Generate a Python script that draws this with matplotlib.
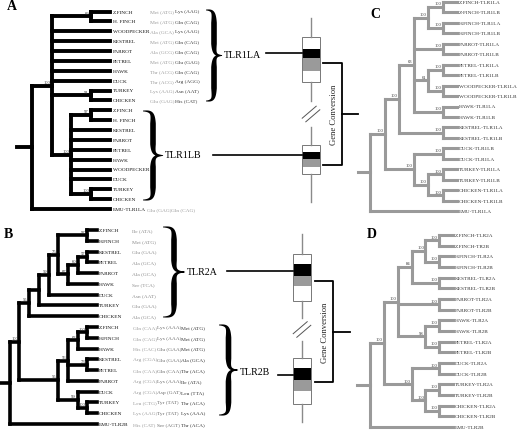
import numpy as np
import matplotlib
matplotlib.use("Agg")
import matplotlib.pyplot as plt
from matplotlib.collections import LineCollection

plt.rcParams['font.family'] = ['Liberation Serif', 'DejaVu Serif']

# ---- data: tree topologies (support, children), leaves are indices ----
leaves_a = ["Z.FINCH", "H. FINCH", "WOODPECKER", "KESTREL", "PARROT", "PETREL",
            "HAWK", "DUCK", "TURKEY", "CHICKEN",
            "Z.FINCH", "H. FINCH", "KESTREL", "PARROT", "PETREL", "HAWK",
            "WOODPECKER", "DUCK", "TURKEY", "CHICKEN", "EMU-TLR1LA"]
tree_a = ("", [("100", [("69", [0, 1]), 2, 3, 4, 5, 6, 7, ("91", [8, 9]),
                        ("100", [("97", [10, 11]), 12, 13, 14, 15, 16, 17,
                                 ("100", [18, 19])])]),
               20])
codons_a = [["Met (ATG)", "Lys (AAG)"], ["Met (ATG)", "Gln (CAG)"],
            ["Ala (GCA)", "Lys (AAG)"], ["Met (ATG)", "Gln (CAG)"],
            ["Ala (GCG)", "Gln (CAG)"], ["Met (ATG)", "Glu (GAG)"],
            ["Thr (ACG)", "Gln (CAG)"], ["Thr (ACG)", "Arg (AGG)"],
            ["Lys (AAG)", "Asn (AAT)"], ["Glu (GAG)", "His (CAT)"]]
codons_a_emu = ["Glu (GAG)", "Gln (CAG)"]

leaves_b = ["Z.FINCH", "H.FINCH", "KESTREL", "PETREL", "PARROT", "HAWK",
            "DUCK", "TURKEY", "CHICKEN",
            "Z.FINCH", "H.FINCH", "HAWK", "KESTREL", "PETREL", "PARROT",
            "DUCK", "TURKEY", "CHICKEN", "EMU-TLR2B"]
tree_b = ("", [("100", [("55", [("", [("59", [("75", [("97", [0, 1]),
                                                     ("87", [("60", [("57", [2, 3]), 4]), 5])]),
                                              6]), 7]), 8]),
                        ("55", [("56", [("63", [("100", [9, 10]), 11]),
                                        ("73", [12, 13]), 14]),
                                ("99", [15, ("100", [16, 17])])])]),
               18])
codons_b_2a = ["Ile (ATA)", "Met (ATG)", "Glu (GAA)", "Ala (GCA)", "Ala (GCA)",
               "Ser (TCA)", "Asn (AAT)", "Glu (GAA)", "Ala (GCA)"]
codons_b_2b = [["Gln (CAA)", "Lys (AAA)", "Met (ATG)"],
               ["Gln (CAG)", "Lys (AAA)", "Met (ATG)"],
               ["His (CAC)", "Glu (GAA)", "Met (ATG)"],
               ["Arg (CGA)", "Glu (GAA)", "Ala (GCA)"],
               ["Gln (CAA)", "Gln (CAA)", "Thr (ACA)"],
               ["Arg (CGA)", "Lys (AAA)", "Ile (ATA)"],
               ["Arg (CGA)", "Asp (GAT)", "Leu (TTA)"],
               ["Leu (CTG)", "Tyr (TAT)", "Thr (ACA)"],
               ["Lys (AAG)", "Tyr (TAT)", "Lys (AAA)"],
               ["His (CAT)", "Ser (AGT)", "Thr (ACA)"]]

leaves_c = ["Z.FINCH-TLR1LA", "Z-FINCH-TLR1LB", "H.FINCH-TLR1LA", "H.FINCH-TLR1LB",
            "PARROT-TLR1LA", "PARROT-TLR1LB", "PETREL-TLR1LA", "PETREL-TLR1LB",
            "WOODPECKER-TLR1LA", "WOODPECKER-TLR1LB", "HAWK-TLR1LA", "HAWK-TLR1LB",
            "KESTREL-TLR1LA", "KESTREL-TLR1LB", "DUCK-TLR1LB", "DUCK-TLR1LA",
            "TURKEY-TLR1LA", "TURKEY-TLR1LB", "CHICKEN-TLR1LA", "CHICKEN-TLR1LB",
            "EMU-TLR1LA"]
tree_c = ("", [("100", [("100", [("63", [("100", [("100", [0, 1]), ("100", [2, 3])]),
                                         ("100", [4, 5]),
                                         ("61", [("100", [6, 7]), ("100", [8, 9])]),
                                         ("100", [10, 11])]),
                                 ("100", [12, 13])]),
                        ("100", [("100", [14, 15]),
                                 ("100", [("100", [16, 17]), ("100", [18, 19])])])]),
               20])

leaves_d = ["Z.FINCH-TLR2A", "Z.FINCH-TR2B", "H.FINCH-TLR2A", "H.FINCH-TLR2B",
            "KESTREL-TLR2A", "KESTREL-TLR2B", "PARROT-TLR2A", "PARROT-TLR2B",
            "HAWK-TLR2A", "HAWK-TLR2B", "PETREL-TLR2A", "PETREL-TLR2B",
            "DUCK-TLR2A", "DUCK-TLR2B", "TURKEY-TLR2A", "TURKEY-TLR2B",
            "CHICKEN-TLR2A", "CHICKEN-TLR2B", "EMU-TLR2B"]
tree_d = ("", [("100", [("100", [("84", [("100", [("100", [0, 1]), ("100", [2, 3])]),
                                         ("100", [4, 5])]),
                                 ("100", [6, 7]),
                                 ("98", [("100", [8, 9]), ("100", [10, 11])])]),
                        ("100", [("100", [12, 13]),
                                 ("100", [("100", [14, 15]), ("100", [16, 17])])])]),
               18])


# ---- helpers ----
def layout(node, ys, leaf_x, step, segs, labels):
    if isinstance(node, int):
        return leaf_x, ys[node], 0
    sup, kids = node
    res = [layout(k, ys, leaf_x, step, segs, labels) for k in kids]
    h = max(r[2] for r in res) + 1
    x = leaf_x - step * h
    y = (res[0][1] + res[-1][1]) / 2
    segs.append([(x, res[0][1]), (x, res[-1][1])])
    for cx, cy, _ in res:
        segs.append([(x, cy), (cx, cy)])
    if sup:
        labels.append((x, y, sup))
    return x, y, h


def draw_tree(ax, tree, names, y0, dy, leaf_x, step, stub, color, lw,
              txt_color, gap, fs=3.8):
    ys = y0 + dy * np.arange(len(names))
    segs, labels = [], []
    rx, ry, _ = layout(tree, ys, leaf_x, step, segs, labels)
    segs.append([(rx - stub, ry), (rx, ry)])
    ax.add_collection(LineCollection(segs, colors=color, linewidths=lw,
                                     capstyle='projecting', joinstyle='miter'))
    for x, y, s in labels:
        ax.text(x - 1.5, y - 1.8, s, fontsize=3.3, ha='right', va='bottom',
                color='#333333')
    for y, n in zip(ys, names):
        ax.text(leaf_x + gap, y, n, fontsize=fs, ha='left', va='center',
                color=txt_color)
    return ys


def brace(ax, x0, x1, ytop, ybot, wmax=5.6):
    xm = (x0 + x1) / 2
    ym = (ytop + ybot) / 2
    r = (ybot - ytop) * 0.14
    t = np.linspace(0, 1, 25)[:, None]

    def bez(p0, p1, p2, p3):
        p0, p1, p2, p3 = map(np.array, (p0, p1, p2, p3))
        return (1 - t) ** 3 * p0 + 3 * (1 - t) ** 2 * t * p1 + 3 * (1 - t) * t ** 2 * p2 + t ** 3 * p3

    s1 = bez((x0, ytop), (xm - 0.1 * (xm - x0), ytop), (xm, ytop + 0.2 * r), (xm, ytop + r))
    s2 = np.column_stack([np.full(25, xm), np.linspace(ytop + r, ym - r, 25)])
    s3 = bez((xm, ym - r), (xm, ym - 0.2 * r), (xm + 0.1 * (x1 - xm), ym), (x1, ym))
    upper = np.vstack([s1, s2[1:], s3[1:]])
    w_up = np.concatenate([np.linspace(0.8, wmax, 25), np.full(24, wmax),
                           np.linspace(wmax, 0.8, 24)])
    lower = upper[::-1].copy()
    lower[:, 1] = 2 * ym - lower[:, 1]
    pts = np.vstack([upper, lower[1:]])
    w = np.concatenate([w_up, w_up[::-1][1:]])
    d = np.gradient(pts, axis=0)
    n = np.column_stack([-d[:, 1], d[:, 0]])
    n /= np.linalg.norm(n, axis=1)[:, None] + 1e-9
    left = pts + n * w[:, None] / 2
    right = pts - n * w[:, None] / 2
    ax.fill(np.concatenate([left[:, 0], right[::-1, 0]]),
            np.concatenate([left[:, 1], right[::-1, 1]]), color='black', lw=0)


def gene_box(ax, x, y, bands, w=18):
    for h, c in bands:
        ax.add_patch(plt.Rectangle((x, y), w, h, facecolor=c, edgecolor='none'))
        y += h
    return y


fig = plt.figure(figsize=(5.2, 4.31), dpi=100)
ax = fig.add_axes([0, 0, 1, 1])
ax.set_xlim(0, 520)
ax.set_ylim(431, 0)
ax.axis('off')

# ---- panel A ----
ys_a = draw_tree(ax, tree_a, leaves_a, 12.5, 9.875, 110, 19.5, 15, 'black', 2.8,
                 '#111111', 3)
for y, (c1, c2) in zip(ys_a[:10], codons_a):
    ax.text(150, y, c1, fontsize=3.9, va='center', color='#9a9a9a')
    ax.text(175, y, c2, fontsize=3.9, va='center', color='#3a3a3a')
ax.text(147, ys_a[20], codons_a_emu[0], fontsize=3.9, va='center', color='#9a9a9a')
ax.text(171, ys_a[20], codons_a_emu[1], fontsize=3.9, va='center', color='#9a9a9a')
brace(ax, 206, 222, 11, 102)
ax.text(224, 56, "TLR1LA", fontsize=7.2, va='center')
brace(ax, 143, 163, 112, 201)
ax.text(165, 156, "TLR1LB", fontsize=7.2, va='center')

# ---- panel B ----
ys_b = draw_tree(ax, tree_b, leaves_b, 231, 10.78, 97, 9.7, 10, 'black', 2.6,
                 '#111111', 2.2)
for y, c in zip(ys_b[:9], codons_b_2a):
    ax.text(132, y, c, fontsize=3.9, va='center', color='#8a8a8a')
for y, row in zip(ys_b[9:], codons_b_2b):
    for x, c, col in zip([133, 157, 181], row, ['#9a9a9a', '#6a6a6a', '#333333']):
        ax.text(x, y, c, fontsize=3.9, va='center', color=col)
brace(ax, 163, 185, 228, 318)
ax.text(187, 273, "TLR2A", fontsize=7.2, va='center')
brace(ax, 219, 238, 326, 416)
ax.text(240, 373, "TLR2B", fontsize=7.2, va='center')

# ---- panels C and D ----
draw_tree(ax, tree_c, leaves_c, 3, 10.45, 457, 14.5, 12, '#9a9a9a', 2.2, '#333333', 2)
draw_tree(ax, tree_d, leaves_d, 236, 10.67, 453, 13.8, 13, '#9a9a9a', 2.2, '#333333', 2)

for x, y, s in [(12, 7, "A"), (8, 235, "B"), (375, 14, "C"), (372, 235, "D")]:
    ax.text(x, y, s, fontsize=10, fontweight='bold', ha='center', va='center')

# ---- gene schematics ----
chrom = '#8a8a8a'
band_sets = {
    'a_top': [(12, 'white'), (9, 'black'), (13, '#9a9a9a'), (11, 'white')],
    'a_bot': [(7, 'white'), (7, 'black'), (8, '#9a9a9a'), (7, 'white')],
    'b_top': [(10, 'white'), (12, 'black'), (10, '#9a9a9a'), (15, 'white')],
    'b_bot': [(10, 'white'), (12, 'black'), (11, '#9a9a9a'), (13, 'white')],
}
for bx, ytop1, ytop2, top_line, mid_gap, bot_line, k in [
        (302, 38, 146, 19, (102, 128), 203, 'a'),
        (293, 255, 359, 235, (319, 342), 423, 'b')]:
    cx = bx + 9
    e1 = gene_box(ax, bx, ytop1, band_sets[k + '_top'])
    e2 = gene_box(ax, bx, ytop2, band_sets[k + '_bot'])
    for y1, y2 in [(top_line, ytop1), (e1, mid_gap[0]), (mid_gap[1], ytop2), (e2, bot_line)]:
        ax.plot([cx, cx], [y1, y2], color=chrom, lw=1.0)
    for y1, y2 in [(ytop1, e1), (ytop2, e2)]:
        ax.add_patch(plt.Rectangle((bx, y1), 18, y2 - y1, fill=False,
                                   edgecolor='#777777', lw=0.7))
    sy = (mid_gap[0] + mid_gap[1]) / 2
    for off in (-1.8, 1.8):
        ax.plot([cx - 7 + off, cx + 7 + off], [sy + 6 + off, sy - 6 + off],
                color='#555555', lw=0.7)

# connectors to labels
for x1, x2, y in [(266, 302, 54), (213, 302, 156), (227, 293, 272), (278, 293, 376)]:
    ax.plot([x1, x2], [y, y], color='black', lw=1.2)

# gene conversion brackets
for x1, x2, yt, yb, xe, tx in [(323, 342, 64, 166, 358, 334),
                               (315, 333, 282, 383, 350, 325)]:
    ax.plot([x1, x2, x2, x1], [yt, yt, yb, yb], color='black', lw=1.3)
    ax.plot([x2, xe], [(yt + yb) / 2] * 2, color='black', lw=1.3)
    ax.text(tx, (yt + yb) / 2, "Gene Conversion", rotation=90, fontsize=6.2,
            ha='center', va='center', color='#222222')

fig.savefig('out.png', dpi=100)
